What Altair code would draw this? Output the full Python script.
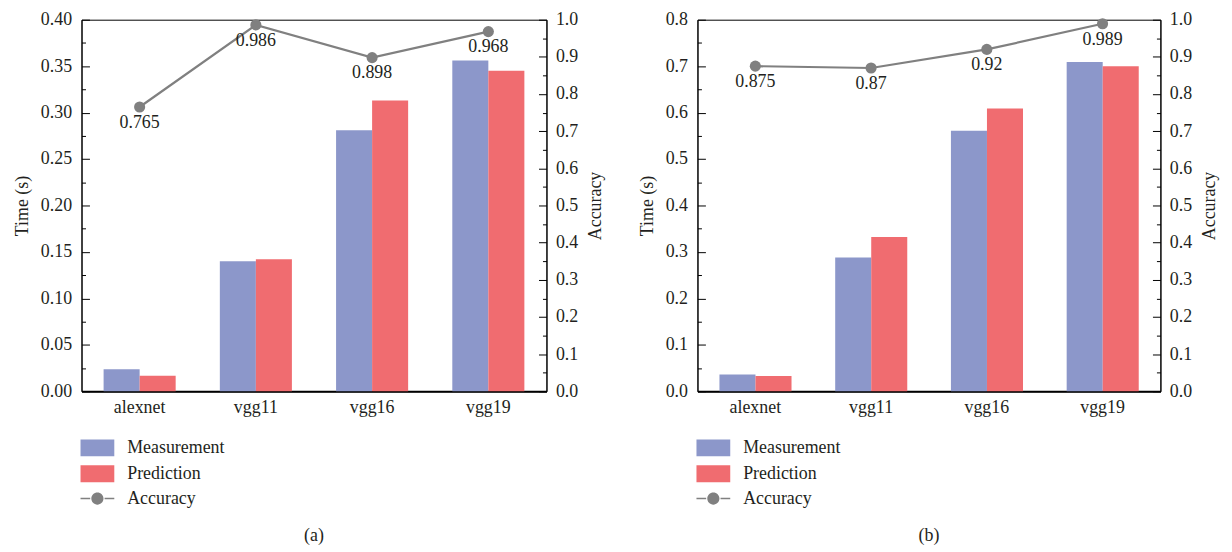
import altair as alt
import pandas as pd

models = ["alexnet", "vgg11", "vgg16", "vgg19"]
series = ["Measurement", "Prediction"]

meas_a = [0.0236, 0.140, 0.281, 0.356]
pred_a = [0.0168, 0.142, 0.313, 0.345]
acc_a = [0.765, 0.986, 0.898, 0.968]
acc_lbl_a = ["0.765", "0.986", "0.898", "0.968"]

meas_b = [0.036, 0.288, 0.561, 0.709]
pred_b = [0.033, 0.332, 0.609, 0.700]
acc_b = [0.875, 0.87, 0.92, 0.989]
acc_lbl_b = ["0.875", "0.87", "0.92", "0.989"]

time_ticks_a = [0.0, 0.05, 0.10, 0.15, 0.20, 0.25, 0.30, 0.35, 0.40]
time_minor_a = [0.025, 0.075, 0.125, 0.175, 0.225, 0.275, 0.325, 0.375]
time_ticks_b = [0.0, 0.1, 0.2, 0.3, 0.4, 0.5, 0.6, 0.7, 0.8]
time_minor_b = [0.05, 0.15, 0.25, 0.35, 0.45, 0.55, 0.65, 0.75]
acc_ticks = [0.0, 0.1, 0.2, 0.3, 0.4, 0.5, 0.6, 0.7, 0.8, 0.9, 1.0]
acc_minor = [0.05, 0.15, 0.25, 0.35, 0.45, 0.55, 0.65, 0.75, 0.85, 0.95]

FONT = "Liberation Serif"
FS = 18
TXT = "#231f20"
BLUE = "#8c97ca"
RED = "#f06c70"
GRAY = "#808080"

RECT_PATH = "M-2,-1H2V1H-2Z"
ACC_PATH = ("M-2,-0.09H-0.85V0.09H-2Z M0.85,-0.09H2V0.09H0.85Z "
            "M-0.72,0A0.72,0.72,0,1,1,0.72,0A0.72,0.72,0,1,1,-0.72,0Z")


def tick_layer(df, x, field, scale, values, orient, size):
    return alt.Chart(df).mark_point(opacity=0).encode(
        x=x,
        y=alt.Y(field, scale=scale,
                axis=alt.Axis(orient=orient, offset=-size, tickSize=size,
                              values=values, labels=False, domain=False,
                              title=None, grid=False, tickColor="black",
                              tickWidth=1))
    )


def panel(meas, pred, acc, lbl, tmax, tticks, tminor, tfmt, caption, w):
    bars_df = pd.DataFrame({
        "model": models * 2,
        "series": [series[0]] * len(models) + [series[1]] * len(models),
        "time": meas + pred,
    })
    acc_df = pd.DataFrame({"model": models, "acc": acc, "label": lbl,
                           "name": ["Accuracy"] * len(models)})

    x = alt.X("model:N", sort=models,
              scale=alt.Scale(paddingInner=0.38, paddingOuter=0.19),
              axis=alt.Axis(title=None, ticks=False, labelAngle=0,
                            labelPadding=7, domainWidth=2, domainColor="black",
                            grid=False))
    ysc_t = alt.Scale(domain=[0, tmax], nice=False, zero=True)
    ysc_a = alt.Scale(domain=[0, 1], nice=False, zero=True)

    bars = alt.Chart(bars_df).mark_bar().encode(
        x=x,
        xOffset=alt.XOffset("series:N", sort=series),
        y=alt.Y("time:Q", scale=ysc_t,
                axis=alt.Axis(orient="left", title="Time (s)", values=tticks,
                              format=tfmt, ticks=False, tickSize=0,
                              labelPadding=10, titlePadding=9, grid=False,
                              domainColor="black")),
        color=alt.Color("series:N",
                        scale=alt.Scale(domain=series, range=[BLUE, RED]),
                        legend=alt.Legend(title=None, orient="none",
                                          legendX=7, legendY=422,
                                          symbolType=RECT_PATH,
                                          symbolSize=289,
                                          symbolStrokeWidth=0,
                                          labelOffset=21, rowPadding=8,
                                          padding=0)),
    )

    line = alt.Chart(acc_df).mark_line(color=GRAY, strokeWidth=2.2).encode(
        x=x,
        y=alt.Y("acc:Q", scale=ysc_a,
                axis=alt.Axis(orient="right", title="Accuracy",
                              values=acc_ticks, format=".1f", ticks=False,
                              tickSize=0, labelPadding=9, titleAngle=270,
                              titleBaseline="top", titlePadding=9,
                              grid=False, domainColor="black")),
    )
    points = alt.Chart(acc_df).mark_point(filled=True, size=125,
                                          opacity=1).encode(
        x=x,
        y=alt.Y("acc:Q", scale=ysc_a, axis=None),
        fill=alt.Fill("name:N",
                      scale=alt.Scale(domain=["Accuracy"], range=[GRAY]),
                      legend=alt.Legend(title=None, orient="none",
                                        legendX=7, legendY=473,
                                        symbolType=ACC_PATH,
                                        symbolSize=289,
                                        symbolStrokeWidth=0,
                                        symbolOpacity=1,
                                        labelOffset=21, padding=0)),
    )
    text = alt.Chart(acc_df).mark_text(dy=16, font=FONT, fontSize=FS,
                                       color=TXT).encode(
        x=x,
        y=alt.Y("acc:Q", scale=ysc_a, axis=None),
        text="label:N",
    )

    layers = [
        bars,
        tick_layer(bars_df, x, "time:Q", ysc_t, tticks, "left", 8),
        tick_layer(bars_df, x, "time:Q", ysc_t, tminor, "left", 4),
        line, points, text,
        tick_layer(acc_df, x, "acc:Q", ysc_a, acc_ticks, "right", 8),
        tick_layer(acc_df, x, "acc:Q", ysc_a, acc_minor, "right", 4),
    ]
    return alt.layer(*layers).resolve_scale(y="independent").properties(
        width=w, height=374,
        title=alt.TitleParams(caption, orient="bottom", anchor="middle",
                              offset=20),
    )


pa = panel(meas_a, pred_a, acc_a, acc_lbl_a, 0.40, time_ticks_a,
           time_minor_a, ".2f", "(a)", 468)
pb = panel(meas_b, pred_b, acc_b, acc_lbl_b, 0.8, time_ticks_b,
           time_minor_b, ".1f", "(b)", 466)

chart = alt.hconcat(pa, pb, spacing=33).resolve_scale(
    color="independent", fill="independent"
).properties(
    padding={"left": 5, "top": 0, "right": 5, "bottom": 0}
).configure_axis(
    labelFont=FONT, titleFont=FONT, labelFontSize=FS, titleFontSize=FS,
    titleFontWeight="normal", labelColor=TXT, titleColor=TXT,
).configure_legend(
    labelFont=FONT, labelFontSize=FS, labelColor=TXT,
).configure_title(
    font=FONT, fontSize=FS, fontWeight="normal", color=TXT,
).configure_view(
    stroke="black", strokeWidth=1,
)

chart.save("out.html", embed_options={"renderer": "svg", "actions": False})
